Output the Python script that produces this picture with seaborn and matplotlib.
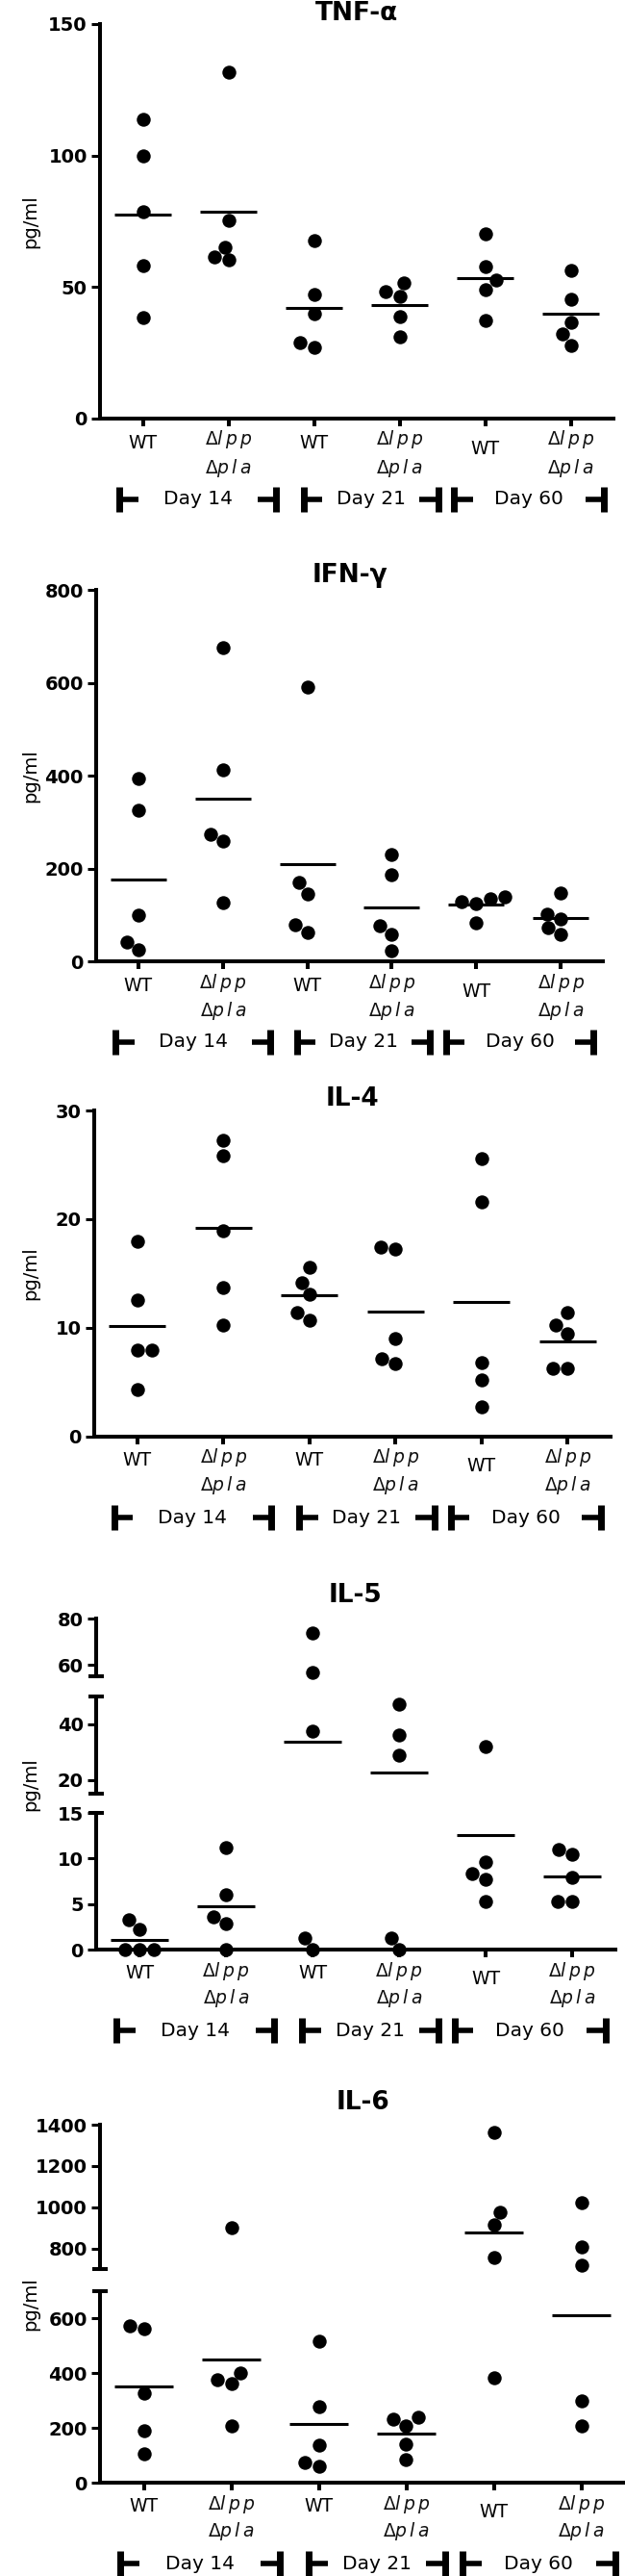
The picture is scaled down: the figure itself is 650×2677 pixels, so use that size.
import numpy as np
import pandas as pd
import matplotlib
matplotlib.use("Agg")
import matplotlib.pyplot as plt
import matplotlib.transforms as mtrans
import seaborn as sns

# ---------------- data ----------------
groups = ["WT d14", "KO d14", "WT d21", "KO d21", "WT d60", "KO d60"]
wt_label = "WT"
ko_label_top = r"$\Delta\mathit{l\,p\,p}$"
ko_label_bottom = r"$\Delta\mathit{p\,l\,a}$"
day_labels = ["Day 14", "Day 21", "Day 60"]
titles = ["TNF-\u03b1", "IFN-\u03b3", "IL-4", "IL-5", "IL-6"]
unit_label = "pg/ml"

tnf_alpha = [
    [113.6, 99.9, 78.5, 58.2, 38.3],
    [131.8, 75.2, 65.3, 61.3, 60.2],
    [67.7, 47.3, 40.0, 28.8, 26.9],
    [51.5, 48.4, 46.5, 38.6, 31.1],
    [70.2, 57.7, 52.6, 49.1, 37.2],
    [56.4, 45.5, 36.7, 32.2, 27.8],
]
ifn_gamma = [
    [393, 325, 100, 42, 24],
    [675, 413, 274, 259, 127],
    [591, 170, 145, 79, 62],
    [231, 186, 77, 59, 23],
    [139, 135, 129, 125, 83],
    [148, 102, 91, 72, 57],
]
il4 = [
    [18.0, 12.6, 8.0, 8.0, 4.3],
    [27.3, 25.8, 18.9, 13.7, 10.3],
    [15.6, 14.2, 13.1, 11.4, 10.7],
    [17.4, 17.3, 9.0, 7.2, 6.7],
    [25.6, 21.6, 6.8, 5.2, 2.7],
    [11.4, 10.3, 9.5, 6.3, 6.3],
]
il5 = [
    [3.3, 2.2, 0, 0, 0],
    [11.2, 6.0, 3.6, 2.9, 0],
    [73.6, 56.8, 37.5, 1.3, 0],
    [47.2, 36.1, 28.7, 1.3, 0],
    [32.1, 9.6, 8.3, 7.7, 5.3],
    [11.0, 10.5, 7.9, 5.3, 5.3],
]
il6 = [
    [574, 564, 327, 189, 104],
    [902, 401, 377, 362, 208],
    [518, 279, 137, 74, 60],
    [238, 231, 208, 142, 86],
    [1361, 976, 915, 757, 383],
    [1022, 809, 718, 300, 208],
]

tnf_ticks = [0, 50, 100, 150]
ifn_ticks = [0, 200, 400, 600, 800]
il4_ticks = [0, 10, 20, 30]
il5_ticks_low, il5_ticks_mid, il5_ticks_high = [0, 5, 10, 15], [20, 40], [60, 80]
il6_ticks_low, il6_ticks_high = [0, 200, 400, 600], [800, 1000, 1200, 1400]

# ---------------- layout (pixels) ----------------
W, H = 650, 2677
panels = [
    dict(title=titles[0], data=tnf_alpha, L=104, R=638, title_y=21,
         segs=[(0, 150, tnf_ticks, 25, 435)]),
    dict(title=titles[1], data=ifn_gamma, L=100, R=627, title_y=605,
         segs=[(0, 800, ifn_ticks, 613, 999)]),
    dict(title=titles[2], data=il4, L=98, R=635, title_y=1149,
         segs=[(0, 30, il4_ticks, 1154, 1493)]),
    dict(title=titles[3], data=il5, L=100, R=640, title_y=1665,
         segs=[(0, 15, il5_ticks_low, 1884, 2026),
               (15, 50, il5_ticks_mid, 1763, 1864),
               (55, 80, il5_ticks_high, 1682, 1742)]),
    dict(title=titles[4], data=il6, L=104, R=650, title_y=2192,
         segs=[(0, 700, il6_ticks_low, 2381, 2580),
               (700, 1400, il6_ticks_high, 2208, 2358)]),
]
brackets = [(-0.27, 1.56), (1.88, 3.45), (3.64, 5.39)]

sns.set_style("white")
plt.rcParams["font.family"] = ["DejaVu Sans"]
plt.rcParams["mathtext.fontset"] = "dejavusans"
plt.rcParams["text.color"] = "black"
plt.rcParams["axes.labelcolor"] = "black"
plt.rcParams["xtick.color"] = "black"
plt.rcParams["ytick.color"] = "black"

fig = plt.figure(figsize=(W / 100, H / 100), dpi=100)


def rect(L, R, top, bot):
    return [L / W, 1 - bot / H, (R - L) / W, (bot - top) / H]


for p in panels:
    rows = []
    for g, vals in zip(groups, p["data"]):
        for v in vals:
            rows.append((g, v))
    df = pd.DataFrame(rows, columns=["group", "value"])
    segs = p["segs"]
    n = len(segs)
    for k, (lo, hi, ticks, top, bot) in enumerate(segs):
        ax = fig.add_axes(rect(p["L"], p["R"], top, bot))
        if k == 0:
            sub = df[(df.value >= lo) & (df.value <= hi)]
        else:
            sub = df[(df.value > lo) & (df.value <= hi)]
        sns.swarmplot(data=sub, x="group", y="value", order=groups,
                      color="black", size=10.4, linewidth=0, ax=ax)
        for c in ax.collections:
            c.set_clip_on(False)
            c.set_zorder(4)
        for i, vals in enumerate(p["data"]):
            m = float(np.mean(vals))
            if lo <= m <= hi:
                ax.hlines(m, i - 0.33, i + 0.33, colors="black",
                          linewidth=2.2, zorder=3)
        ax.set_xlim(-0.5, 5.5)
        ax.set_ylim(lo, hi)
        ax.set_yticks(ticks)
        ax.set_yticklabels([str(t) for t in ticks], fontweight="bold",
                           fontsize=14, color="black")
        ax.set_xlabel("")
        ax.set_ylabel("")
        ax.patch.set_alpha(0)
        for s in ["top", "right"]:
            ax.spines[s].set_visible(False)
        ax.spines["left"].set_linewidth(2.9)
        ax.spines["left"].set_color("black")
        ax.tick_params(axis="y", length=6.5, width=2.2, pad=3,
                       direction="out", colors="black", left=True)
        if k == 0:
            ax.spines["bottom"].set_linewidth(2.9)
            ax.spines["bottom"].set_color("black")
            ax.set_xticks(range(6))
            ax.set_xticklabels([""] * 6)
            ax.tick_params(axis="x", length=5.8, width=2.9,
                           direction="out", colors="black", bottom=True)
            base = mtrans.blended_transform_factory(ax.transData, ax.transAxes)
            for i, g in enumerate(groups):
                if g.startswith("WT"):
                    dy = 31 if i == 4 else 25
                    ax.text(i, 0, wt_label, fontsize=13.5, ha="center",
                            va="center", color="black",
                            transform=mtrans.offset_copy(base, fig=fig, y=-dy,
                                                         units="dots"))
                else:
                    ax.text(i, 0, ko_label_top, fontsize=13.5, ha="center",
                            va="center", color="#111111",
                            transform=mtrans.offset_copy(base, fig=fig, y=-22,
                                                         units="dots"))
                    ax.text(i, 0, ko_label_bottom, fontsize=13.5, ha="center",
                            va="center", color="#111111",
                            transform=mtrans.offset_copy(base, fig=fig, y=-51,
                                                         units="dots"))
            # day brackets
            ypx = bot + 84
            yf = 1 - ypx / H
            hh = 13 / H
            btr = mtrans.blended_transform_factory(ax.transData, fig.transFigure)
            arm = 0.22
            for (a, b), lab in zip(brackets, day_labels):
                kw = dict(color="black", transform=btr, clip_on=False,
                          solid_capstyle="butt")
                ax.plot([a, a], [yf - hh, yf + hh], lw=5, **kw)
                ax.plot([a, a + arm], [yf, yf], lw=4, **kw)
                ax.plot([b, b], [yf - hh, yf + hh], lw=5, **kw)
                ax.plot([b - arm, b], [yf, yf], lw=4, **kw)
                ax.text((a + b) / 2, yf, lab, fontsize=14.5, ha="center",
                        va="center", color="black", transform=btr)
        else:
            ax.spines["bottom"].set_visible(False)
            ax.set_xticks([])
        if n > 1:
            caps = []
            if k < n - 1:
                caps.append(hi)
            if k > 0:
                caps.append(lo)
            for y in caps:
                ax.plot([-0.5], [y], marker="_", ms=12, mew=2.9,
                        color="black", clip_on=False)
    top_px = segs[-1][3]
    zero_px = segs[0][4]
    fig.text(((p["L"] + p["R"]) / 2) / W, 1 - p["title_y"] / H, p["title"],
             ha="center", va="baseline", fontsize=19, fontweight="bold",
             color="black")
    fig.text(32 / W, 1 - ((top_px + zero_px) / 2) / H, unit_label,
             rotation=90, ha="center", va="center", fontsize=14,
             color="black")

fig.savefig("out.png", dpi=100)
